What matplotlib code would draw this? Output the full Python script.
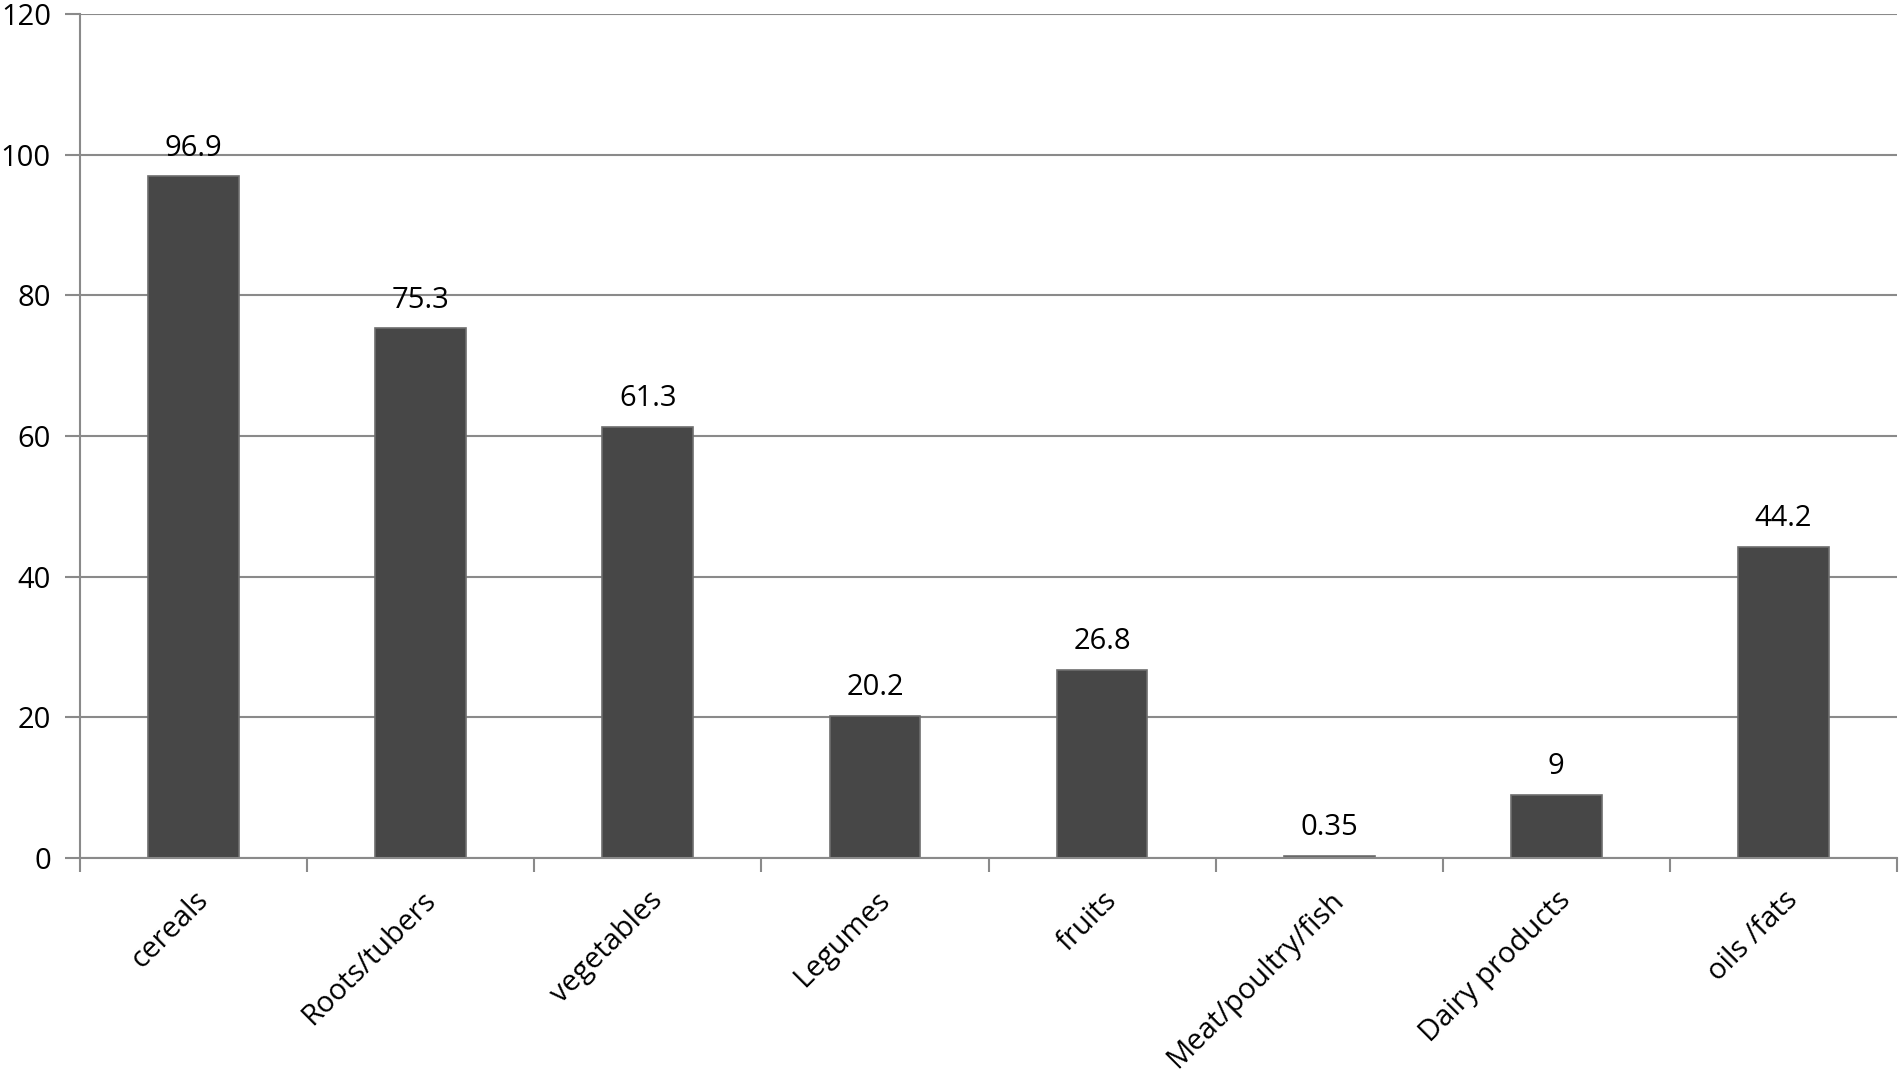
import matplotlib.pyplot as plt

plt.rcParams['font.family'] = ['Open Sans', 'DejaVu Sans']

categories = ['cereals', 'Roots/tubers', 'vegetables', 'Legumes', 'fruits',
              'Meat/poultry/fish', 'Dairy products', 'oils /fats']
values = [96.9, 75.3, 61.3, 20.2, 26.8, 0.35, 9, 44.2]
value_labels = ['96.9', '75.3', '61.3', '20.2', '26.8', '0.35', '9', '44.2']
yticks = [0, 20, 40, 60, 80, 100, 120]

grey = '#8a8a8a'
fs = 21

fig = plt.figure(figsize=(19, 10.74), dpi=100)
ax = fig.add_axes([80 / 1900, 1 - 858 / 1074, 1817 / 1900, 844 / 1074])

x = list(range(len(categories)))
bars = ax.bar(x, values, width=0.4, color='#474747', edgecolor='#6e6e6e',
              linewidth=1.2, zorder=3)

for b, lab in zip(bars, value_labels):
    ax.annotate(lab, (b.get_x() + b.get_width() / 2, b.get_height()),
                xytext=(0, 10), textcoords='offset points',
                ha='center', va='bottom', fontsize=fs)

ax.set_xlim(-0.5, len(categories) - 0.5)
ax.set_ylim(0, 120)
ax.set_yticks(yticks)
ax.set_yticklabels([str(t) for t in yticks], fontsize=fs)
ax.yaxis.grid(True, color=grey, linewidth=1.5, zorder=0)

# category boundaries carry the ticks, labels sit at centres
ax.set_xticks([i - 0.5 for i in range(len(categories) + 1)])
ax.set_xticklabels([])
ax.set_xticks(x, minor=True)
ax.set_xticklabels(categories, minor=True, rotation=45, ha='right',
                   va='top', rotation_mode='anchor', fontsize=fs)
ax.tick_params(axis='x', which='minor', length=0, pad=20)
ax.tick_params(axis='x', which='major', length=10, width=1.5, color=grey)
ax.tick_params(axis='y', length=11, width=1.5, color=grey, pad=10)

for s in ['top', 'right']:
    ax.spines[s].set_visible(False)
for s in ['left', 'bottom']:
    ax.spines[s].set_color(grey)
    ax.spines[s].set_linewidth(1.5)
    ax.spines[s].set_zorder(4)

fig.savefig('out.png', dpi=100, facecolor='white')
